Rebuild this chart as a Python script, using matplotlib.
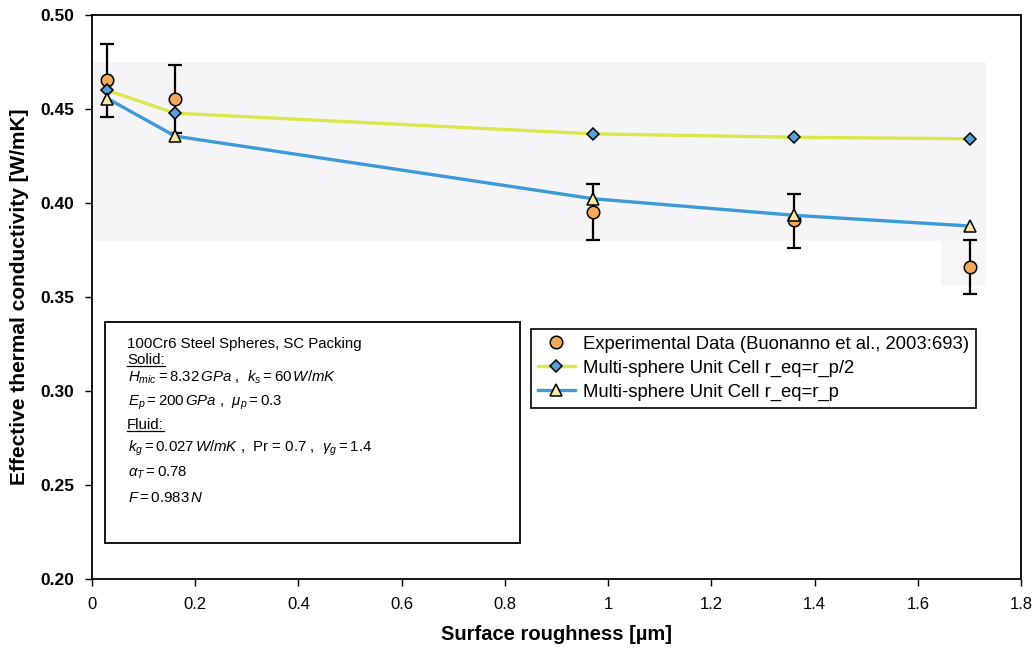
import numpy as np
import matplotlib
matplotlib.use("Agg")
import matplotlib.pyplot as plt
from matplotlib.lines import Line2D

plt.rcParams['font.family'] = ['Liberation Sans', 'DejaVu Sans']
plt.rcParams['mathtext.fontset'] = 'custom'
plt.rcParams['mathtext.rm'] = 'Liberation Sans'
plt.rcParams['mathtext.it'] = 'Liberation Sans:italic'
plt.rcParams['mathtext.bf'] = 'Liberation Sans:bold'

# roughness [um]
x_exp = [0.030, 0.161, 0.971, 1.360, 1.701]
k_exp = [0.4655, 0.4555, 0.395, 0.391, 0.366]
k_err_lo = [0.0195, 0.0185, 0.0145, 0.015, 0.0145]
k_err_hi = [0.019, 0.018, 0.015, 0.014, 0.0145]

x_model = [0.030, 0.161, 0.971, 1.360, 1.701]
k_half = [0.4599, 0.4478, 0.4368, 0.4350, 0.4342]   # r_eq = r_p/2
k_full = [0.4556, 0.4356, 0.4023, 0.3935, 0.3878]   # r_eq = r_p

labels = ['Experimental Data (Buonanno et al., 2003:693)',
          'Multi-sphere Unit Cell r_eq=r_p/2',
          'Multi-sphere Unit Cell r_eq=r_p']

xticks = [0, 0.2, 0.4, 0.6, 0.8, 1.0, 1.2, 1.4, 1.6, 1.8]
xticklabels = ['0', '0.2', '0.4', '0.6', '0.8', '1', '1.2', '1.4', '1.6', '1.8']
yticks = [0.20, 0.25, 0.30, 0.35, 0.40, 0.45, 0.50]

fig = plt.figure(figsize=(10.35, 6.54), dpi=100)
ax = fig.add_axes([0.0889, 0.1145, 0.8976, 0.8625])

# faint scan shading behind the curves
ax.fill_between([0, 1.733], 0.38, 0.475, color='#f5f5f8', lw=0, zorder=0)
ax.fill_between([1.645, 1.733], 0.356, 0.38, color='#f6f6f8', lw=0, zorder=0)

orange = '#f3a95b'
yel = '#d9e84a'
blue = '#3c9ad8'

ax.errorbar(x_exp, k_exp, yerr=[k_err_lo, k_err_hi], fmt='none', ecolor='black',
            elinewidth=1.6, capsize=5, capthick=1.6, zorder=2)
ax.plot(x_exp, k_exp, 'o', ms=9, mfc=orange, mec='black', mew=1.1, zorder=3, label=labels[0])
ax.plot(x_model, k_half, '-', color=yel, lw=2.4, marker='D', ms=6.5, mfc='#5b9fd8',
        mec='black', mew=1.1, zorder=4, label=labels[1])
ax.plot(x_model, k_full, '-', color=blue, lw=2.4, marker='^', ms=9, mfc='#f6e7a6',
        mec='black', mew=1.1, zorder=5, label=labels[2])

ax.set_xlim(0, 1.8)
ax.set_ylim(0.2, 0.5)
ax.set_xticks(xticks)
ax.set_xticklabels(xticklabels, fontsize=12)
ax.set_yticks(yticks)
ax.set_yticklabels(['%.2f' % v for v in yticks], fontsize=12.5, fontweight='bold')
ax.tick_params(direction='out', length=5, width=1, pad=8)
for s in ax.spines.values():
    s.set_linewidth(1.3)

ax.set_xlabel('Surface roughness [µm]', fontsize=14.5, fontweight='bold', labelpad=9)
ax.set_ylabel('Effective thermal conductivity [W/mK]', fontsize=15, fontweight='bold', labelpad=8)

leg = ax.legend(loc='upper left', bbox_to_anchor=(0.473, 0.443), frameon=True, fancybox=False,
                edgecolor='black', framealpha=1, fontsize=13.3, handlelength=2.0,
                handletextpad=0.45, borderpad=0.35, labelspacing=0.38, borderaxespad=0)
leg.get_frame().set_linewidth(1.2)

# parameter box
px = lambda x, y: (x / 1035.0, 1 - y / 654.0)
box = plt.Rectangle(px(105, 543), 415 / 1035.0, 221 / 654.0, transform=fig.transFigure,
                    fill=False, edgecolor='black', lw=1.3, zorder=10)
fig.add_artist(box)

lines = [
    (127, 348, '100Cr6 Steel Spheres, SC Packing', False),
    (127, 364, 'Solid:', True),
    (128, 382, r'$H_{mic} = 8.32\,GPa$ ,  $k_s = 60\,W/mK$', False),
    (128, 406, r'$E_p = 200\,GPa$ ,  $\mu_p = 0.3$', False),
    (127, 429, 'Fluid:', True),
    (128, 452, r'$k_g = 0.027\,W/mK$ ,  Pr = 0.7 ,  $\gamma_g = 1.4$', False),
    (128, 477, r'$\alpha_T = 0.78$', False),
    (128, 502, r'$F = 0.983\,N$', False),
]
texts = []
for x, y, s, ul in lines:
    t = fig.text(*px(x, y), s, fontsize=10.8, ha='left', va='baseline', zorder=11)
    texts.append((t, ul))

fig.canvas.draw()
r = fig.canvas.get_renderer()
for t, ul in texts:
    if ul:
        bb = t.get_window_extent(r)
        y0 = bb.y0 + 1.0
        fig.add_artist(Line2D([bb.x0 / fig.bbox.width, bb.x1 / fig.bbox.width],
                              [y0 / fig.bbox.height, y0 / fig.bbox.height],
                              transform=fig.transFigure, color='black', lw=0.9))

fig.savefig('out.png', dpi=100)
